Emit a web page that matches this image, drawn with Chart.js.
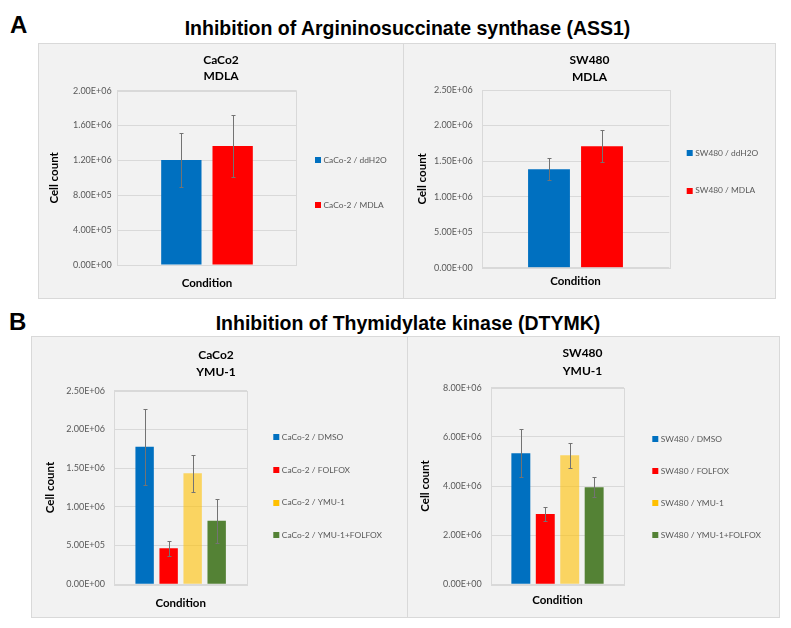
<!DOCTYPE html>
<html>
<head>
<meta charset="utf-8">
<title>Inhibition of ASS1 and DTYMK</title>
<script src="https://cdn.jsdelivr.net/npm/chart.js@4.4.1/dist/chart.umd.min.js"></script>
<style>
  body { margin: 0; background: #fff; }
  #page { position: relative; width: 791px; height: 628px; overflow: hidden; font-family: 'Liberation Sans', Arial, sans-serif; }
  .letter { position: absolute; font-weight: bold; font-size: 24px; line-height: 24px; color: #000; }
  .heading { position: absolute; font-weight: bold; font-size: 19.5px; line-height: 20px; white-space: nowrap; transform: translateX(-50%); color: #000; }
  .panel { position: absolute; background: #f2f2f2; border: 1px solid #d9d9d9; box-sizing: border-box; }
  .sep { position: absolute; width: 1px; background: #d9d9d9; }
  canvas { position: absolute; }
</style>
</head>
<body>
<div id="page">
  <div class="letter" style="left:10px;top:13px">A</div>
  <div class="heading" style="left:407.5px;top:18px">Inhibition of Argininosuccinate synthase (ASS1)</div>
  <div class="panel" style="left:38px;top:43px;width:738px;height:256px"></div>
  <div class="sep" style="left:403px;top:43px;height:256px"></div>
  <canvas id="chartA1" width="366" height="255" style="left:38px;top:43px"></canvas>
  <canvas id="chartA2" width="371" height="255" style="left:404px;top:43px"></canvas>

  <div class="letter" style="left:9px;top:310px">B</div>
  <div class="heading" style="left:408px;top:312.5px">Inhibition of Thymidylate kinase (DTYMK)</div>
  <div class="panel" style="left:31px;top:336px;width:749px;height:282px"></div>
  <div class="sep" style="left:407px;top:336px;height:282px"></div>
  <canvas id="chartB1" width="370" height="281" style="left:31px;top:336px"></canvas>
  <canvas id="chartB2" width="393" height="281" style="left:386px;top:336px"></canvas>
</div>

<script>
// single category on every x axis
const conditionLabel = ['Condition'];

// A, left: CaCo2 + MDLA
const caco2MdlaGroups = ['CaCo-2 / ddH2O', 'CaCo-2 / MDLA'];
const caco2MdlaMeans = [1.205e6, 1.365e6];
const caco2MdlaErrors = [0.306e6, 0.354e6];

// A, right: SW480 + MDLA
const sw480MdlaGroups = ['SW480 / ddH2O', 'SW480 / MDLA'];
const sw480MdlaMeans = [1.385e6, 1.708e6];
const sw480MdlaErrors = [0.153e6, 0.225e6];

// B, left: CaCo2 + YMU-1
const caco2YmuGroups = ['CaCo-2 / DMSO', 'CaCo-2 / FOLFOX', 'CaCo-2 / YMU-1', 'CaCo-2 / YMU-1+FOLFOX'];
const caco2YmuMeans = [1.777e6, 0.465e6, 1.433e6, 0.821e6];
const caco2YmuErrors = [0.49e6, 0.095e6, 0.24e6, 0.285e6];

// B, right: SW480 + YMU-1
const sw480YmuGroups = ['SW480 / DMSO', 'SW480 / FOLFOX', 'SW480 / YMU-1', 'SW480 / YMU-1+FOLFOX'];
const sw480YmuMeans = [5.33e6, 2.86e6, 5.25e6, 3.95e6];
const sw480YmuErrors = [0.98e6, 0.28e6, 0.5e6, 0.4e6];

// y axis ranges (max, step)
const caco2MdlaAxis = [2.0e6, 4e5];
const sw480MdlaAxis = [2.5e6, 5e5];
const caco2YmuAxis = [2.5e6, 5e5];
const sw480YmuAxis = [8.0e6, 2e6];

// colours
const barColors = ['#0070c0', '#ff0000', 'rgba(255, 192, 0, 0.6)', '#548235'];
const markerColors = ['#0070c0', '#ff0000', '#ffc000', '#548235'];

Chart.defaults.font.family = 'Lato, "Open Sans", sans-serif';
Chart.defaults.animation = false;

// 0 -> 0.00E+00
function sci(v) {
    const parts = Number(v).toExponential(2).split('e');
    const e = Number(parts[1]);
    return parts[0] + 'E' + (e < 0 ? '-' : '+') + String(Math.abs(e)).padStart(2, '0');
}

function makeChart(id, groups, means, errors, axis, lay) {

    // thin frame round the plot area, like Excel
    const plotFrame = {
        id: 'plotFrame',
        beforeDatasetsDraw(chart) {
            const a = chart.chartArea;
            const c = chart.ctx;
            c.save();
            c.strokeStyle = '#d9d9d9';
            c.lineWidth = 1;
            c.strokeRect(Math.round(a.left) + 0.5, Math.round(a.top) + 0.5,
                Math.round(a.right - a.left), Math.round(a.bottom - a.top));
            c.restore();
        }
    };

    // +/- error bars from the errorBars array of each dataset
    const errorBars = {
        id: 'errorBars',
        afterDatasetsDraw(chart) {
            const c = chart.ctx;
            const yScale = chart.scales.y;
            c.save();
            c.strokeStyle = '#737373';
            c.lineWidth = 1;
            chart.data.datasets.forEach((ds, i) => {
                chart.getDatasetMeta(i).data.forEach((bar, j) => {
                    const v = ds.data[j];
                    const err = ds.errorBars[j];
                    const x = Math.round(bar.x) + 0.5;
                    const top = Math.round(yScale.getPixelForValue(v + err)) + 0.5;
                    const bottom = Math.round(yScale.getPixelForValue(v - err)) + 0.5;
                    c.beginPath();
                    c.moveTo(x, top);
                    c.lineTo(x, bottom);
                    c.moveTo(x - 2, top);
                    c.lineTo(x + 2, top);
                    c.moveTo(x - 2, bottom);
                    c.lineTo(x + 2, bottom);
                    c.stroke();
                });
            });
            c.restore();
        }
    };

    // legend on the right, squares + labels
    const sideLegend = {
        id: 'sideLegend',
        afterDraw(chart) {
            const c = chart.ctx;
            c.save();
            c.font = '8.4px Lato, "Open Sans", sans-serif';
            c.textBaseline = 'middle';
            chart.data.datasets.forEach((ds, i) => {
                const y = lay.legendY + i * lay.legendGap;
                c.fillStyle = ds.markerColor;
                c.fillRect(lay.legendX, Math.round(y - 3), 6, 6);
                c.fillStyle = '#595959';
                c.fillText(ds.label, lay.legendX + 8.5, y);
            });
            c.restore();
        }
    };

    return new Chart(document.getElementById(id), {
        type: 'bar',
        data: {
            labels: conditionLabel,
            datasets: groups.map((g, i) => ({
                label: g,
                data: [means[i]],
                errorBars: [errors[i]],
                yAxisID: 'y',
                backgroundColor: barColors[i],
                markerColor: markerColors[i],
                borderWidth: 0,
                categoryPercentage: lay.cat,
                barPercentage: lay.bar
            }))
        },
        options: {
            responsive: false,
            devicePixelRatio: 1,
            plugins: {
                legend: { display: false },
                tooltip: { enabled: false },
                title: {
                    display: true,
                    text: lay.title,
                    color: '#000',
                    font: { size: 12, weight: 'bold', lineHeight: lay.titleLine / 12 },
                    padding: { top: lay.titleTop, bottom: lay.titleBottom }
                }
            },
            scales: {
                x: {
                    ticks: { display: false },
                    grid: { display: false },
                    border: { display: false },
                    title: {
                        display: true,
                        text: 'Condition',
                        color: '#000',
                        font: { size: 11.5, weight: 'bold' },
                        padding: { top: 0, bottom: lay.xTitlePad }
                    },
                    afterFit(scale) { scale.height = lay.xHeight; }
                },
                y: {
                    min: 0,
                    max: axis[0],
                    ticks: {
                        stepSize: axis[1],
                        padding: lay.tickPad,
                        color: '#595959',
                        font: { size: 9 },
                        callback: (v) => sci(v)
                    },
                    grid: { color: '#d9d9d9', drawTicks: false },
                    border: { display: false },
                    title: {
                        display: true,
                        text: 'Cell count',
                        color: '#000',
                        font: { size: 11.5, weight: 'bold' },
                        padding: { top: lay.yTitlePad, bottom: 0 }
                    },
                    afterFit(scale) { scale.width = lay.yWidth; }
                },
                // empty axis on the right, only keeps room for the legend
                legendRoom: {
                    type: 'linear',
                    position: 'right',
                    ticks: { display: false },
                    grid: { display: false, drawTicks: false },
                    border: { display: false },
                    afterFit(scale) { scale.width = lay.padRight; }
                }
            }
        },
        plugins: [plotFrame, errorBars, sideLegend]
    });
}

function drawAll() {
    makeChart('chartA1', caco2MdlaGroups, caco2MdlaMeans, caco2MdlaErrors, caco2MdlaAxis, {
        title: ['CaCo2', 'MDLA'], titleLine: 16, titleTop: 9, titleBottom: 6.7,
        yWidth: 79.3, tickPad: 5.6, yTitlePad: 9.1,
        xHeight: 33, xTitlePad: 8.1, padRight: 107.3,
        cat: 0.572, bar: 0.786,
        legendX: 277, legendY: 117, legendGap: 45
    });
    makeChart('chartA2', sw480MdlaGroups, sw480MdlaMeans, sw480MdlaErrors, sw480MdlaAxis, {
        title: ['SW480', 'MDLA'], titleLine: 16.7, titleTop: 8.65, titleBottom: 4.95,
        yWidth: 77.7, tickPad: 9, yTitlePad: 11.1,
        xHeight: 30.3, xTitlePad: 9.4, padRight: 105.7,
        cat: 0.565, bar: 0.79,
        legendX: 282.7, legendY: 110.3, legendGap: 37.4
    });
    makeChart('chartB1', caco2YmuGroups, caco2YmuMeans, caco2YmuErrors, caco2YmuAxis, {
        title: ['CaCo2', 'YMU-1'], titleLine: 16.7, titleTop: 10.65, titleBottom: 10.65,
        yWidth: 83.3, tickPad: 9.3, yTitlePad: 12.6,
        xHeight: 32.7, xTitlePad: 7.1, padRight: 154,
        cat: 0.724, bar: 0.766,
        legendX: 242.3, legendY: 101.3, legendGap: 32.6
    });
    makeChart('chartB2', sw480YmuGroups, sw480YmuMeans, sw480YmuErrors, sw480YmuAxis, {
        title: ['SW480', 'YMU-1'], titleLine: 17.7, titleTop: 8.15, titleBottom: 8.15,
        yWidth: 105, tickPad: 9.3, yTitlePad: 32.8,
        xHeight: 32.7, xTitlePad: 10.1, padRight: 155,
        cat: 0.735, bar: 0.775,
        legendX: 266.3, legendY: 103, legendGap: 32
    });
}

Promise.all([
    document.fonts.load('bold 12px Lato'),
    document.fonts.load('9px Lato'),
    document.fonts.load('bold 20px "Liberation Sans"')
]).then(drawAll, drawAll);
</script>
</body>
</html>
